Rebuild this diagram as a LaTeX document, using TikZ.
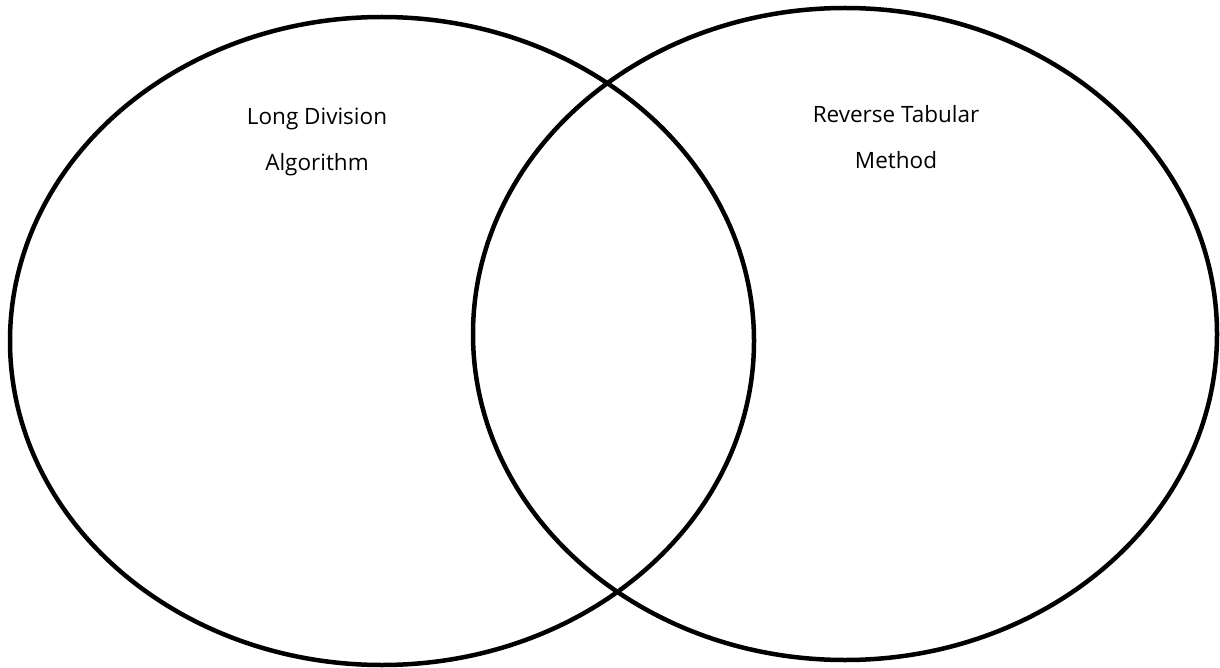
\documentclass[tikz,border=0pt]{standalone}
\usepackage{fontspec}
\setmainfont{Open Sans}
\usepackage{tikz}
\usetikzlibrary{positioning}

\begin{document}
\begin{tikzpicture}[
  x=1pt, y=-1pt,
  font=\fontsize{22.5}{46}\selectfont,
  set/.style={line width=4.5pt, draw=black},
  lbl/.style={align=center, inner sep=0pt},
]
\useasboundingbox (0,0) rectangle (1220,668);
% ---------------- the two sets ----------------
\draw[set] (382,341) ellipse [x radius=372, y radius=324];
\draw[set] (845,334) ellipse [x radius=372, y radius=326];
% ---------------- set names ----------------
\node[lbl] (ldiv) at (317,142) {Long Division\\Algorithm};
\node[lbl] (rtab) at (896,137) {Reverse Tabular\\Method};
\end{tikzpicture}
\end{document}
